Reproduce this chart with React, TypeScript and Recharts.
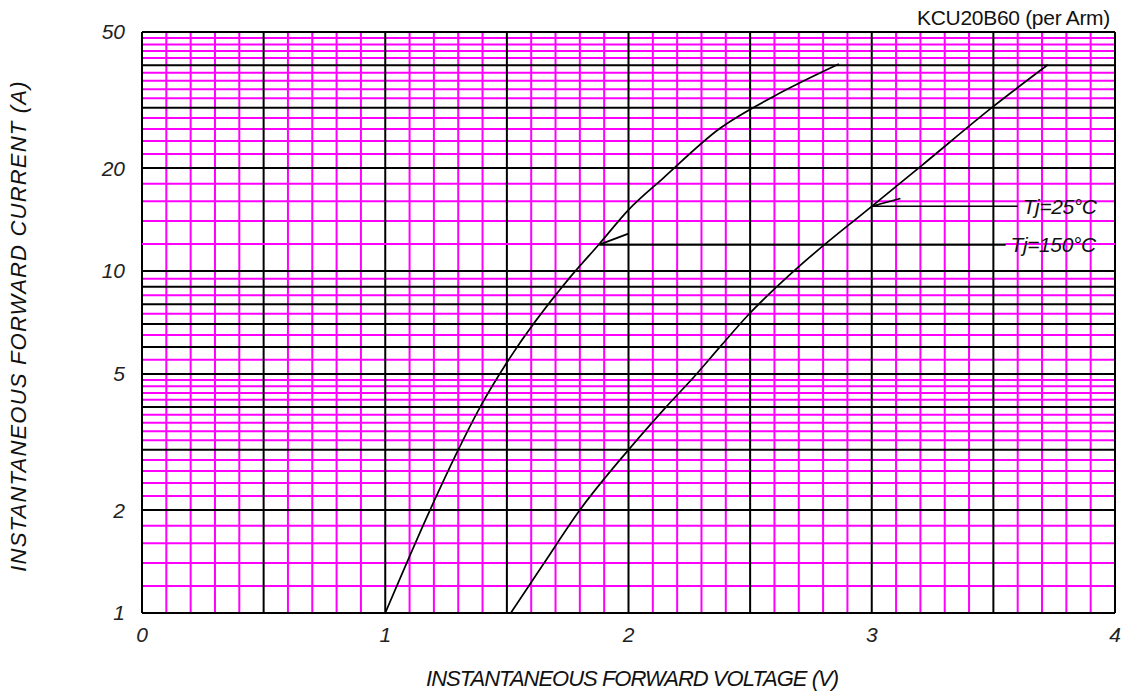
import React from "react";
import { LineChart, Line, XAxis, YAxis, CartesianGrid, ReferenceLine } from "recharts";

// forward characteristics, per arm (V, A)
const hotV = [1.0, 1.184, 1.3, 1.39, 1.5, 1.755, 1.88, 2.0, 2.143, 2.375, 2.6, 2.865];
const hotI = [1, 2, 3, 4, 5.4, 9.5, 12, 15.1, 18.7, 26.1, 32.5, 40.3];

const coldV = [1.516, 1.59, 1.653, 1.8, 2.0, 2.154, 2.28, 2.376, 2.493, 2.68, 3.0, 3.2, 3.5, 3.724];
const coldI = [1, 1.2, 1.4, 2, 3, 4, 5, 6, 7.45, 10, 15.46, 20.2, 30.3, 40.1];

// leader lines to the temperature labels: [tip, elbow, end]
const hotLeaderV = [2.0, 1.88, 3.55];
const hotLeaderI = [12.86, 11.95, 11.95];
const coldLeaderV = [3.118, 3.0, 3.6];
const coldLeaderI = [16.3, 15.46, 15.46];

const xTicks = [0, 1, 2, 3, 4];
const yTicks = [1, 2, 5, 10, 20, 50];

const xMajor = [0, 0.5, 1, 1.5, 2, 2.5, 3, 3.5, 4];
const xMinor = [
  0.1, 0.2, 0.3, 0.4, 0.6, 0.7, 0.8, 0.9, 1.1, 1.2, 1.3, 1.4, 1.6, 1.7, 1.8, 1.9,
  2.1, 2.2, 2.3, 2.4, 2.6, 2.7, 2.8, 2.9, 3.1, 3.2, 3.3, 3.4, 3.6, 3.7, 3.8, 3.9,
];
const yMajor = [1, 2, 3, 4, 5, 6, 7, 8, 9, 10, 20, 30, 40, 50];
// 12 A is drawn separately, in two pieces either side of the Tj=150°C leader
const yMinor = [
  1.2, 1.4, 1.6, 1.8, 2.2, 2.4, 2.6, 2.8, 3.2, 3.4, 3.6, 3.8, 4.2, 4.4, 4.6, 4.8,
  5.5, 6.5, 7.5, 8.5, 9.5, 14, 16, 18, 22, 24, 26, 28, 32, 34, 36, 38, 42, 44, 46, 48,
];
const yMinorSplit = 12;

const toPts = (v: number[], i: number[]) => v.map((x, k) => ({ v: x, i: i[k] }));

const FONT = '"Liberation Sans", Arial, sans-serif';
const MAGENTA = "#FF00FF";

// label drawn only at the end of a leader line
function endLabel(text: string, count: number) {
  return (p: any) => {
    if (p.index !== count - 1) return null;
    return (
      <text
        x={p.x + 5}
        y={p.y + 7.5}
        fontFamily={FONT}
        fontStyle="italic"
        fontSize={21}
        letterSpacing={-0.4}
        fill="#111"
      >
        {text}
      </text>
    );
  };
}

export default function App() {
  const tick = { fontFamily: FONT, fontStyle: "italic", fontSize: 21, fill: "#222" };
  return (
    <div style={{ position: "absolute", left: 0, top: 0, width: 1137, height: 697, background: "#fff" }}>
      <div
        style={{
          position: "absolute",
          right: 27,
          top: 6,
          fontFamily: FONT,
          fontSize: 21,
          color: "#111",
          letterSpacing: -0.3,
          lineHeight: "24px",
        }}
      >
        KCU20B60 (per Arm)
      </div>
      <LineChart width={1137} height={697} margin={{ top: 32, right: 22, bottom: 0, left: 0 }}>
        <CartesianGrid
          stroke={MAGENTA}
          strokeWidth={2}
          verticalValues={xMinor}
          horizontalValues={yMinor}
        />
        <CartesianGrid
          stroke="#000"
          strokeWidth={2}
          verticalValues={xMajor}
          horizontalValues={yMajor}
        />
        <XAxis
          dataKey="v"
          type="number"
          domain={[0, 4]}
          ticks={xTicks}
          interval={0}
          axisLine={false}
          tickLine={false}
          tickMargin={8}
          height={84}
          tick={tick}
          allowDataOverflow
          label={{
            content: () => (
              <text
                x={632}
                y={686}
                textAnchor="middle"
                fontFamily={FONT}
                fontStyle="italic"
                fontSize={22}
                letterSpacing={-1}
                fill="#111"
              >
                INSTANTANEOUS FORWARD VOLTAGE (V)
              </text>
            ),
          }}
        />
        <YAxis
          dataKey="i"
          type="number"
          scale="log"
          domain={[1, 50]}
          ticks={yTicks}
          interval={0}
          axisLine={false}
          tickLine={false}
          tickMargin={11}
          width={142}
          tick={tick}
          allowDataOverflow
          label={{
            content: () => (
              <text
                x={26}
                y={326}
                transform="rotate(-90 26 326)"
                textAnchor="middle"
                fontFamily={FONT}
                fontStyle="italic"
                fontSize={22}
                letterSpacing={1.2}
                fill="#111"
              >
                INSTANTANEOUS FORWARD CURRENT (A)
              </text>
            ),
          }}
        />
        <ReferenceLine
          segment={[{ x: 0, y: yMinorSplit }, { x: hotLeaderV[1], y: yMinorSplit }]}
          stroke={MAGENTA}
          strokeWidth={2}
        />
        <ReferenceLine
          segment={[{ x: hotLeaderV[2], y: yMinorSplit }, { x: 4, y: yMinorSplit }]}
          stroke={MAGENTA}
          strokeWidth={2}
        />
        <ReferenceLine
          segment={[{ x: hotLeaderV[1], y: hotLeaderI[1] }, { x: hotLeaderV[2], y: hotLeaderI[2] }]}
          stroke="#000"
          strokeWidth={1.8}
        />
        <Line
          data={toPts(hotV, hotI)}
          dataKey="i"
          type="monotone"
          stroke="#000"
          strokeWidth={1.7}
          dot={false}
          isAnimationActive={false}
        />
        <Line
          data={toPts(coldV, coldI)}
          dataKey="i"
          type="monotone"
          stroke="#000"
          strokeWidth={1.7}
          dot={false}
          isAnimationActive={false}
        />
        <Line
          data={toPts(hotLeaderV, hotLeaderI)}
          dataKey="i"
          type="linear"
          stroke="#000"
          strokeWidth={1.8}
          dot={false}
          label={endLabel("Tj=150°C", hotLeaderV.length)}
          isAnimationActive={false}
        />
        <Line
          data={toPts(coldLeaderV, coldLeaderI)}
          dataKey="i"
          type="linear"
          stroke="#000"
          strokeWidth={1.6}
          dot={false}
          label={endLabel("Tj=25°C", coldLeaderV.length)}
          isAnimationActive={false}
        />
      </LineChart>
    </div>
  );
}
